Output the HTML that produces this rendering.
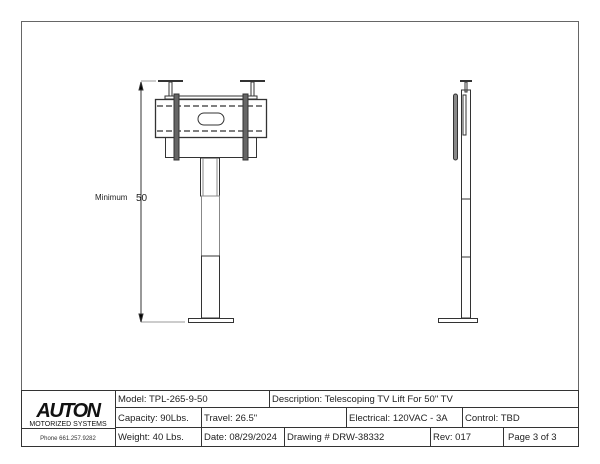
<!DOCTYPE html>
<html><head><style>
body{margin:0;background:#fff;}
svg{display:block;font-family:"Liberation Sans",sans-serif;}
</style></head><body>
<svg width="600" height="464" viewBox="0 0 600 464" xmlns="http://www.w3.org/2000/svg">
<rect x="21.5" y="21.5" width="557" height="425" fill="none" stroke="#666" stroke-width="1"/>
<g stroke="#333" fill="none" stroke-width="1">
<line x1="141" y1="82" x2="141" y2="322"/>
<line x1="141" y1="81" x2="156" y2="81" stroke="#999"/>
<line x1="141" y1="322" x2="185" y2="322" stroke="#999"/>
<polygon points="141,82 139,90 143,90" fill="#000"/>
<polygon points="141,322 139,314 143,314" fill="#000"/>
<line x1="158" y1="81" x2="183" y2="81" stroke-width="2"/>
<rect x="169" y="82" width="3" height="14"/>
<line x1="240" y1="81" x2="265" y2="81" stroke-width="2"/>
<rect x="251" y="82" width="3" height="14"/>
<rect x="165" y="96" width="92" height="3"/>
<rect x="155.5" y="99.5" width="111" height="38" stroke-width="1.3"/>
<line x1="157" y1="106" x2="265" y2="106" stroke-dasharray="6,3" stroke-width="1.6" stroke="#555"/>
<line x1="157" y1="131" x2="265" y2="131" stroke-dasharray="6,3" stroke-width="1.6" stroke="#555"/>
<rect x="198" y="113" width="26" height="12" rx="6"/>
<rect x="165.5" y="137.5" width="91" height="20"/>
<rect x="174" y="94" width="5" height="66" fill="#666"/>
<rect x="243" y="94" width="5" height="66" fill="#666"/>
<rect x="200.5" y="158" width="19" height="38"/>
<line x1="203" y1="158" x2="203" y2="196" stroke="#888"/>
<line x1="217" y1="158" x2="217" y2="196" stroke="#888"/>
<rect x="201.5" y="196" width="18" height="60" stroke="#888"/>
<rect x="201.5" y="256" width="18" height="62"/>
<rect x="188.5" y="318.5" width="45" height="4"/>
<line x1="460" y1="81" x2="472" y2="81" stroke-width="2"/>
<rect x="465" y="82" width="2" height="10"/>
<rect x="461.5" y="90" width="9" height="228"/>
<line x1="461" y1="199" x2="471" y2="199"/>
<line x1="461" y1="257" x2="471" y2="257"/>
<rect x="453.5" y="94" width="4" height="66" rx="2" fill="#888"/>
<rect x="463" y="95" width="3" height="40"/>
<rect x="438.5" y="318.5" width="39" height="4"/>
</g>
<text x="95" y="200" font-size="8" fill="#222">Minimum</text>
<text x="136" y="201" font-size="10" fill="#222">50</text>
<g stroke="#333" stroke-width="1" fill="none">
<rect x="21.5" y="390.5" width="557" height="56"/>
<line x1="115.5" y1="390" x2="115.5" y2="447"/>
<line x1="115" y1="407.5" x2="579" y2="407.5"/>
<line x1="115" y1="427.5" x2="579" y2="427.5"/>
<line x1="22" y1="428.5" x2="115" y2="428.5"/>
<line x1="269.5" y1="390" x2="269.5" y2="408"/>
<line x1="201.5" y1="408" x2="201.5" y2="447"/>
<line x1="346.5" y1="408" x2="346.5" y2="428"/>
<line x1="462.5" y1="408" x2="462.5" y2="428"/>
<line x1="284.5" y1="428" x2="284.5" y2="447"/>
<line x1="430.5" y1="428" x2="430.5" y2="447"/>
<line x1="503.5" y1="428" x2="503.5" y2="447"/>
</g>
<text x="68" y="417" font-size="20" font-weight="bold" text-anchor="middle" fill="#111" letter-spacing="-1.5" font-style="italic">AUTON</text>
<text x="68" y="426" font-size="7" text-anchor="middle" fill="#111">MOTORIZED SYSTEMS</text>
<text x="68" y="440" font-size="6" text-anchor="middle" fill="#333">Phone 661.257.9282</text>
<g font-size="9.5" fill="#222">
<text x="118" y="402">Model:  TPL-265-9-50</text>
<text x="272" y="402">Description: Telescoping TV Lift For 50" TV</text>
<text x="118" y="421">Capacity: 90Lbs.</text>
<text x="204" y="421">Travel: 26.5"</text>
<text x="349" y="421">Electrical: 120VAC - 3A</text>
<text x="465" y="421">Control: TBD</text>
<text x="118" y="440">Weight: 40 Lbs.</text>
<text x="204" y="440">Date: 08/29/2024</text>
<text x="287" y="440">Drawing # DRW-38332</text>
<text x="433" y="440">Rev:  017</text>
<text x="508" y="440">Page 3  of  3</text>
</g>
</svg>
</body></html>
